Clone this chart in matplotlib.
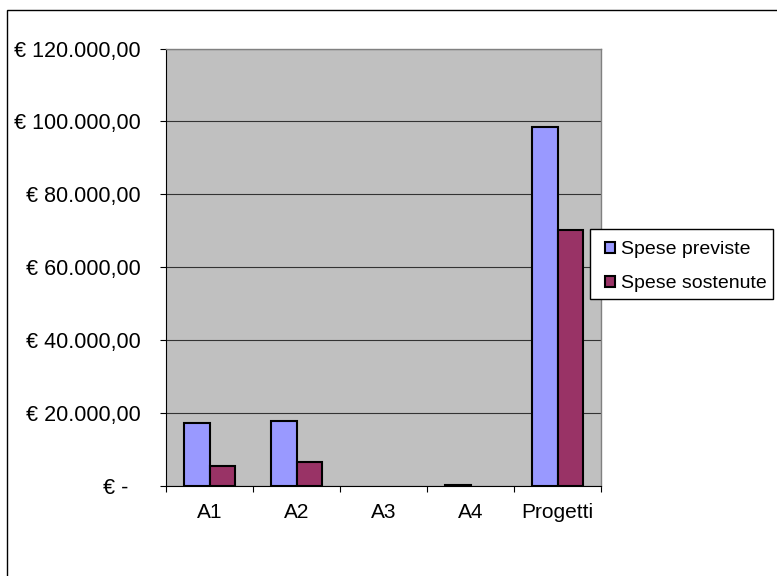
import matplotlib
matplotlib.use("Agg")
import matplotlib.pyplot as plt
from matplotlib.patches import Patch, Rectangle
import numpy as np

categories = ["A1", "A2", "A3", "A4", "Progetti"]
spese_previste = [17200, 17900, 0, 400, 98400]
spese_sostenute = [5500, 6600, 0, 0, 70100]
series_names = ["Spese previste", "Spese sostenute"]
y_ticks = [0, 20000, 40000, 60000, 80000, 100000, 120000]
y_tick_labels = ["€ -  ", "€ 20.000,00", "€ 40.000,00", "€ 60.000,00",
                 "€ 80.000,00", "€ 100.000,00", "€ 120.000,00"]

plt.rcParams['font.family'] = ['Liberation Sans', 'DejaVu Sans']

W, H = 777, 576
fig = plt.figure(figsize=(W / 100, H / 100), dpi=100)
fig.patch.set_facecolor("white")

def fx(px):
    return px / W

def fy(py):
    return (H - py) / H

# outer chart frame (only left and top visible)
fig.patches.append(Rectangle((fx(7), -0.1), 1.2, fy(10) + 0.1,
                             transform=fig.transFigure, fill=False,
                             edgecolor="black", linewidth=1.0, zorder=0))

ax = fig.add_axes([fx(166), fy(486), fx(601) - fx(166), fy(48.5) - fy(486)])
ax.set_facecolor("#C0C0C0")

x = np.arange(len(categories))
bw = 0.293
c_blue = "#9999FF"
c_red = "#993366"
lw_b = [1.5 if v > 0 else 0 for v in spese_previste]
lw_r = [1.5 if v > 0 else 0 for v in spese_sostenute]
ax.bar(x - bw / 2, spese_previste, width=bw, color=c_blue, edgecolor="black",
       linewidth=lw_b, zorder=3)
ax.bar(x + bw / 2, spese_sostenute, width=bw, color=c_red, edgecolor="black",
       linewidth=lw_r, zorder=3)

ax.set_xlim(-0.5, len(categories) - 0.5)
ax.set_ylim(0, 120000)

ax.set_yticks(y_ticks)
ax.set_yticklabels(y_tick_labels, fontsize=15.5)
ax.yaxis.grid(True, color="#333333", linewidth=0.8, zorder=1)
ax.set_axisbelow(True)
ax.tick_params(axis="y", direction="out", length=4.5, width=0.8, pad=14)

ax.set_xticks(x)
ax.set_xticklabels(categories, fontsize=15)
ax.set_xticks(np.arange(len(categories) + 1) - 0.5, minor=True)
ax.tick_params(axis="x", which="major", length=0, pad=12)
ax.tick_params(axis="x", which="minor", direction="out", length=4.5, width=0.8)

for s in ["top", "right"]:
    ax.spines[s].set_color("#808080")
    ax.spines[s].set_linewidth(1.0)
for s in ["left", "bottom"]:
    ax.spines[s].set_color("black")
    ax.spines[s].set_linewidth(0.8)

# legend box drawn manually
fig.patches.append(Rectangle((fx(590), fy(299)), fx(773) - fx(590), fy(229) - fy(299),
                             transform=fig.transFigure, facecolor="white",
                             edgecolor="black", linewidth=1.0, zorder=4))
handles = [Patch(facecolor=c_blue, edgecolor="black", linewidth=1.5),
           Patch(facecolor=c_red, edgecolor="black", linewidth=1.5)]
leg = fig.legend(handles, series_names, loc="upper left",
                 bbox_to_anchor=(fx(605), fy(241)),
                 bbox_transform=fig.transFigure, fontsize=14,
                 frameon=False,
                 handlelength=0.5, handleheight=0.5, handletextpad=0.3,
                 borderpad=0, labelspacing=0.9, borderaxespad=0)
leg.set_zorder(5)

fig.savefig("out.png", dpi=100)
